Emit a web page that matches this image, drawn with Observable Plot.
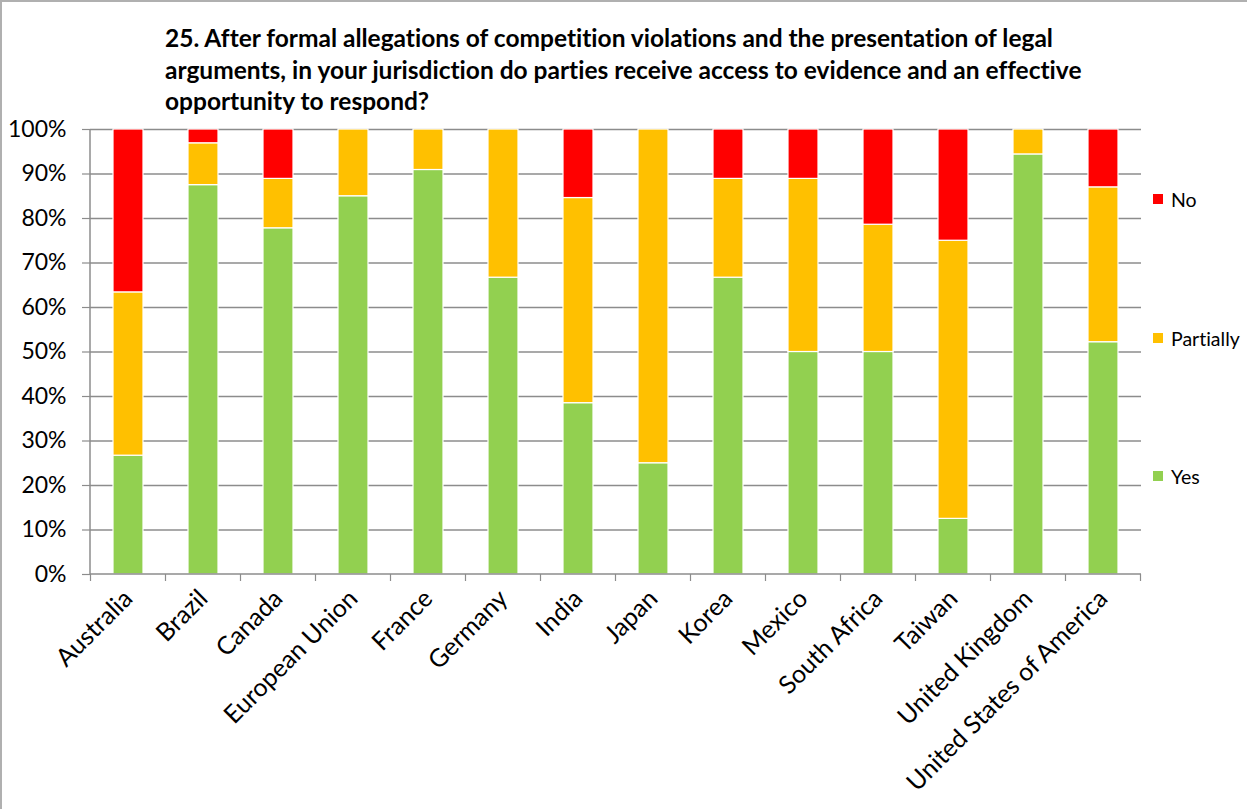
<!DOCTYPE html>
<html>
<head>
<meta charset="utf-8">
<script src="https://cdn.jsdelivr.net/npm/d3@7"></script>
<script src="https://cdn.jsdelivr.net/npm/@observablehq/plot@0.6"></script>
<style>
  html, body { margin: 0; padding: 0; background: #fff; }
  #wrap { position: relative; width: 1247px; height: 809px; overflow: hidden; font-family: Lato, "Open Sans", sans-serif; font-variant-ligatures: none; }
  #wrap svg text { font-variant-ligatures: none; }
  #frame { position: absolute; left: 0; top: 0; width: 1300px; height: 900px; border-left: 2px solid #b0b0b0; border-top: 2px solid #b0b0b0; box-sizing: border-box; }
  #title { position: absolute; left: 165px; top: 22px; width: 1000px; font-weight: bold; font-size: 24.5px; line-height: 31.5px; color: #000; white-space: nowrap; }
  #chart { position: absolute; left: 0; top: 0; }
  .leg { position: absolute; left: 1153px; font-size: 19.5px; color: #000; display: flex; align-items: center; }
  .leg span.sw { display: inline-block; width: 10px; height: 10px; margin-right: 8px; }
</style>
</head>
<body>
<div id="wrap">
  <div id="frame"></div>
  <div id="chart"></div>
  <div id="title"></div>
  <div id="legend"></div>
</div>
<script>
const titleLines = [
  "25. After formal allegations of competition violations and the presentation of legal",
  "arguments, in your jurisdiction do parties receive access to evidence and an effective",
  "opportunity to respond?"
];
const categories = ["Australia", "Brazil", "Canada", "European Union", "France", "Germany", "India", "Japan", "Korea", "Mexico", "South Africa", "Taiwan", "United Kingdom", "United States of America"];
const yesValues       = [26.7, 87.5, 77.8, 85.0, 90.9, 66.7, 38.5, 25.0, 66.7, 50.0, 50.0, 12.5, 94.4, 52.2];
const partiallyValues = [36.7,  9.4, 11.1, 15.0,  9.1, 33.3, 46.1, 75.0, 22.2, 38.9, 28.6, 62.5,  5.6, 34.8];
const noValues        = [36.6,  3.1, 11.1,  0.0,  0.0,  0.0, 15.4,  0.0, 11.1, 11.1, 21.4, 25.0,  0.0, 13.0];
const seriesNames = ["Yes", "Partially", "No"];
const seriesColors = ["#92D050", "#FFC000", "#FF0000"];
const yTicks = [0, 10, 20, 30, 40, 50, 60, 70, 80, 90, 100];

const seriesValues = [yesValues, partiallyValues, noValues];
const rows = [];
categories.forEach((c, i) => {
  seriesNames.forEach((s, j) => rows.push({category: c, series: s, value: seriesValues[j][i]}));
});

const PAD_IN = 0.6, PAD_OUT = 0.3;
const axisColor = "#8c8c8c";

function boundaryTicks(index, scales, values, dimensions) {
  const x = scales.x, y = scales.y;
  const step = x(categories[1]) - x(categories[0]);
  const bw = step * (1 - PAD_IN);
  const y0 = y(0);
  const g = d3.create("svg:g");
  const positions = categories.map(c => x(c) + bw / 2 - step / 2);
  positions.push(x(categories[categories.length - 1]) + bw / 2 + step / 2);
  g.selectAll("line").data(positions).join("line")
    .attr("x1", d => d).attr("x2", d => d)
    .attr("y1", y0).attr("y2", y0 + 7)
    .attr("stroke", axisColor).attr("stroke-width", 1.2);
  g.append("line").attr("x1", dimensions.marginLeft).attr("x2", dimensions.width - dimensions.marginRight)
    .attr("y1", y0).attr("y2", y0).attr("stroke", axisColor).attr("stroke-width", 1.5);
  g.append("line").attr("x1", dimensions.marginLeft).attr("x2", dimensions.marginLeft)
    .attr("y1", y(100)).attr("y2", y0).attr("stroke", axisColor).attr("stroke-width", 1.5);
  return g.node();
}

const chart = Plot.plot({
  width: 1247,
  height: 809,
  marginLeft: 90,
  marginRight: 106,
  marginTop: 129,
  marginBottom: 235,
  style: {fontFamily: "Lato, 'Open Sans', sans-serif", fontSize: "19px", color: "#000", background: "transparent"},
  x: {domain: categories, paddingInner: PAD_IN, paddingOuter: PAD_OUT, label: null},
  y: {domain: [0, 100], label: null},
  color: {domain: seriesNames, range: seriesColors},
  marks: [
    Plot.ruleY(yTicks.filter(d => d > 0), {stroke: axisColor, strokeWidth: 1.5, strokeOpacity: 1}),
    Plot.barY(rows, Plot.stackY({order: seriesNames}, {x: "category", y: "value", fill: "series", z: "series", stroke: "#ffffff", strokeWidth: 1.2})),
    Plot.axisY({ticks: yTicks, tickFormat: d => d + "%", tickSize: 8, tickPadding: 16, stroke: axisColor, strokeWidth: 1.2, fontSize: 23, label: null}),
    Plot.axisX({tickSize: 0, tickRotate: -45, tickPadding: 20, fontSize: 25, label: null}),
    boundaryTicks
  ]
});
document.getElementById("chart").appendChild(chart);

document.getElementById("title").innerHTML = titleLines.map(l => `<div>${l}</div>`).join("");

const legendItems = [
  {name: "No", color: seriesColors[2], top: 199},
  {name: "Partially", color: seriesColors[1], top: 338},
  {name: "Yes", color: seriesColors[0], top: 476}
];
const legend = document.getElementById("legend");
legendItems.forEach(it => {
  const d = document.createElement("div");
  d.className = "leg";
  d.style.top = (it.top - 12) + "px";
  d.style.height = "24px";
  d.innerHTML = `<span class="sw" style="background:${it.color}"></span><span>${it.name}</span>`;
  legend.appendChild(d);
});
</script>
</body>
</html>
